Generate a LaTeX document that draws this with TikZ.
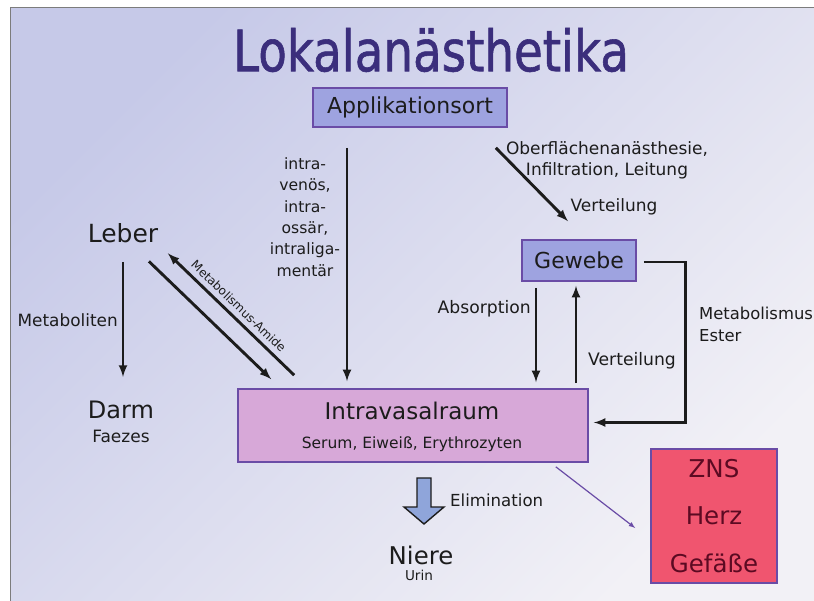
\documentclass[tikz,border=0pt]{standalone}
\usepackage{fontspec}
\setmainfont{DejaVu Sans}
\newfontfamily\titlefont{DejaVu Sans}[FakeStretch=0.82,FakeBold=1]
\usetikzlibrary{positioning}

\definecolor{bgleft}{HTML}{C6C9E8}
\definecolor{bgright}{HTML}{F2F1F6}
\definecolor{framegray}{HTML}{7C7C7C}
\definecolor{titleblue}{HTML}{3B2E7C}
\definecolor{boxblue}{HTML}{9EA3E0}
\definecolor{boxpink}{HTML}{D7A8D8}
\definecolor{boxred}{HTML}{F0556F}
\definecolor{boxline}{HTML}{6A4CA6}
\definecolor{ink}{HTML}{1C1C1C}
\definecolor{znsred}{HTML}{5C0A22}
\definecolor{elimfill}{HTML}{8FA5DA}

\tikzset{
  box/.style={draw=boxline, line width=1.6pt, fill=boxblue, inner sep=0pt, text=ink},
  word/.style={inner sep=0pt, text=ink},
  lbl/.style={inner sep=0pt, text=ink, font=\fontsize{16.5}{21.5}\selectfont},
  flow/.style={->, line width=2.9pt, draw=ink},
}

\begin{document}
\begin{tikzpicture}[>=latex, x=1pt, y=-1pt]
\useasboundingbox (0,0) rectangle (814,601);
\shade[top color=bgleft, bottom color=bgright, shading angle=45] (10.5,7.5) rectangle (814,601);
\draw[framegray, line width=1.6pt] (10.5,601) -- (10.5,7.5) -- (814,7.5);

% title and boxes
\node[word, text=titleblue, font=\titlefont\fontsize{57}{60}\selectfont] (title) at (431,50) {Lokalanästhetika};
\node[box, minimum width=194pt, minimum height=39pt, font=\fontsize{22}{26}\selectfont] (appl) at (410,107.5) {Applikationsort};
\node[box, minimum width=114pt, minimum height=41pt, font=\fontsize{22}{26}\selectfont] (gewebe) at (579,260.5) {Gewebe};
\node[box, fill=boxpink, minimum width=350pt, minimum height=73pt] (intra) at (413,425.5) {};
\node[word, font=\fontsize{23}{26}\selectfont] (intraname) at (412,411) {Intravasalraum};
\node[word, font=\fontsize{15.5}{18}\selectfont] (serum) at (412,444) {Serum, Eiweiß, Erythrozyten};
\node[box, fill=boxred, text=znsred, minimum width=126pt, minimum height=134pt, align=center,
  font=\fontsize{24.5}{47.5}\selectfont] (zns) at (714,516) {ZNS\\Herz\\Gefäße};

% organs
\node[word, font=\fontsize{25}{28}\selectfont] (leber) at (123,233) {Leber};
\node[word, font=\fontsize{24}{28}\selectfont] (darm) at (121,410) {Darm};
\node[word, font=\fontsize{17}{20}\selectfont] (faezes) at (121,436) {Faezes};
\node[word, font=\fontsize{24.4}{28}\selectfont] (niere) at (421,555) {Niere};
\node[word, font=\fontsize{13.6}{16}\selectfont] (urin) at (419,575) {Urin};

% Applikationsort
\draw[flow] ([xshift=-63pt,yshift=-20pt]appl.south) -- ([xshift=-66pt,yshift=7pt]intra.north);
\node[lbl, align=center, font=\fontsize{15.6}{21.4}\selectfont] (intravenoes) at (305,217)
  {intra-\\venös,\\intra-\\ossär,\\intraliga-\\mentär};
\draw[flow] ([xshift=-12pt,yshift=-20pt]appl.south east) -- ([xshift=-11pt,yshift=18pt]gewebe.north);
\node[lbl, align=center, font=\fontsize{17}{21}\selectfont] (oberflaeche) at (607,160)
  {Oberflächenanästhesie,\\Infiltration, Leitung};
\node[lbl, font=\fontsize{17}{20}\selectfont] (verteilA) at (614,207) {Verteilung};

% Gewebe
\draw[flow] ([xshift=7pt,yshift=-1.5pt]gewebe.east) -- ++(42,0) |- ([xshift=5pt,yshift=3pt]intra.east);
\node[lbl, anchor=west, align=left, font=\fontsize{16.4}{22}\selectfont] (metaester) at (699,324)
  {Metabolismus\\Ester};
\draw[flow] ([xshift=-43pt,yshift=-6pt]gewebe.south) -- ([xshift=123pt,yshift=6pt]intra.north);
\node[lbl, anchor=east, font=\fontsize{17.2}{20}\selectfont] (absorption) at (531,309) {Absorption};
\draw[flow] ([xshift=163pt,yshift=5pt]intra.north) -- ([xshift=-3pt,yshift=-4pt]gewebe.south);
\node[lbl, anchor=west, font=\fontsize{17.2}{20}\selectfont] (verteilB) at (588,361) {Verteilung};

% Leber
\draw[flow] ([yshift=-19pt]leber.south) -- ([yshift=24pt]leber.south |- darm.north);
\node[lbl, anchor=east, font=\fontsize{16.9}{20}\selectfont] (metaboliten) at (118,320) {Metaboliten};
\draw[flow] ([xshift=-9.5pt,yshift=-18.5pt]leber.south east) -- ([xshift=34pt,yshift=9pt]intra.north west);
\draw[flow] ([xshift=57pt,yshift=13pt]intra.north west) -- ([xshift=9.5pt,yshift=-10.5pt]leber.south east)
  node[midway, sloped, above, inner sep=5pt, text=ink, font=\fontsize{12}{14}\selectfont] (amide) {Metabolismus-Amide};

% Elimination
\coordinate (elim) at (424,478);
\filldraw[draw=ink, line width=1.4pt, fill=elimfill, line join=miter]
  (elim) ++(-7,0) -- ++(14,0) -- ++(0,29) -- ++(13,0) -- (424,524) -- (404,507) -- ++(13,0) -- cycle;
\node[lbl, anchor=west, font=\fontsize{16.6}{20}\selectfont] (elimlabel) at (450,500) {Elimination};
\draw[->, line width=1.2pt, draw=boxline] ([xshift=-33pt,yshift=-4pt]intra.south east) -- ([xshift=-15pt,yshift=-12pt]zns.west);
\end{tikzpicture}
\end{document}
